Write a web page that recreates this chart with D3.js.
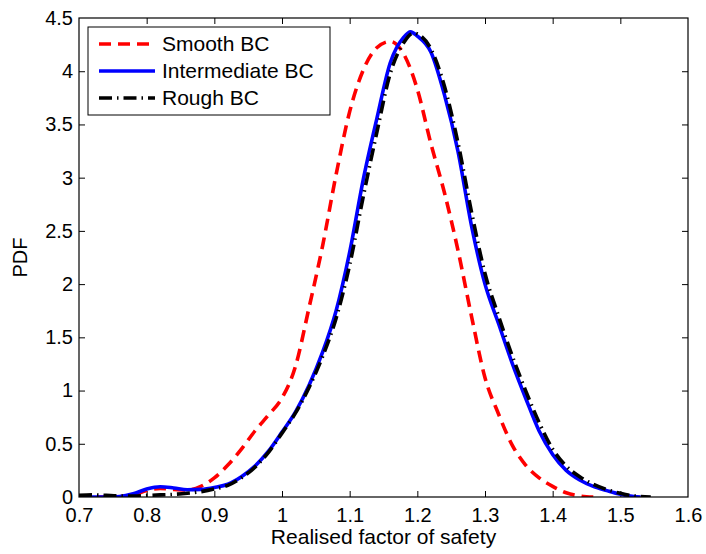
<!DOCTYPE html>
<html>
<head>
<meta charset="utf-8">
<script src="https://cdn.jsdelivr.net/npm/d3@7"></script>
<style>
  html, body { margin: 0; padding: 0; background: #fff; }
  svg { display: block; font-family: "Liberation Sans", Arial, Helvetica, sans-serif; }
</style>
</head>
<body>
<svg id="chart" width="706" height="554"></svg>
<script>
// ---- data ----
const xTicks = [0.7, 0.8, 0.9, 1.0, 1.1, 1.2, 1.3, 1.4, 1.5, 1.6];
const yTicks = [0, 0.5, 1, 1.5, 2, 2.5, 3, 3.5, 4, 4.5];
const seriesNames = ["Smooth BC", "Intermediate BC", "Rough BC"];

const smoothX = [0.70, 0.74, 0.76, 0.78, 0.80, 0.82, 0.84, 0.86, 0.88, 0.90, 0.92, 0.94, 0.96, 0.98, 1.00, 1.02, 1.04, 1.06, 1.08, 1.10, 1.12, 1.14, 1.16, 1.18, 1.20, 1.22, 1.24, 1.26, 1.28, 1.30, 1.32, 1.34, 1.36, 1.38, 1.40, 1.42, 1.44, 1.46];
const smoothY = [0.00, 0.00, 0.003, 0.02, 0.06, 0.08, 0.07, 0.065, 0.10, 0.18, 0.30, 0.45, 0.62, 0.77, 0.93, 1.23, 1.78, 2.36, 3.03, 3.62, 4.01, 4.22, 4.28, 4.16, 3.83, 3.32, 2.86, 2.32, 1.70, 1.12, 0.78, 0.49, 0.30, 0.18, 0.10, 0.04, 0.01, 0.00];

const interX = [0.70, 0.74, 0.76, 0.78, 0.80, 0.82, 0.84, 0.86, 0.88, 0.90, 0.92, 0.94, 0.96, 0.98, 1.00, 1.02, 1.04, 1.06, 1.08, 1.10, 1.12, 1.14, 1.16, 1.18, 1.19, 1.20, 1.22, 1.24, 1.26, 1.28, 1.30, 1.32, 1.34, 1.36, 1.38, 1.40, 1.42, 1.44, 1.46, 1.48, 1.50, 1.52, 1.53];
const interY = [0.00, 0.00, 0.005, 0.03, 0.075, 0.097, 0.085, 0.068, 0.072, 0.09, 0.12, 0.19, 0.29, 0.43, 0.61, 0.80, 1.05, 1.36, 1.75, 2.30, 2.98, 3.55, 4.08, 4.32, 4.37, 4.33, 4.18, 3.78, 3.25, 2.55, 2.00, 1.63, 1.26, 0.93, 0.62, 0.40, 0.25, 0.16, 0.10, 0.06, 0.025, 0.005, 0.00];

const roughX = [0.70, 0.72, 0.74, 0.76, 0.78, 0.80, 0.82, 0.84, 0.86, 0.88, 0.90, 0.92, 0.94, 0.96, 0.98, 1.00, 1.02, 1.04, 1.06, 1.08, 1.10, 1.12, 1.14, 1.16, 1.18, 1.195, 1.20, 1.22, 1.24, 1.26, 1.28, 1.30, 1.32, 1.34, 1.36, 1.38, 1.40, 1.42, 1.44, 1.46, 1.48, 1.50, 1.52, 1.545];
const roughY = [0.015, 0.02, 0.015, 0.01, 0.01, 0.015, 0.02, 0.025, 0.035, 0.05, 0.075, 0.11, 0.18, 0.28, 0.42, 0.60, 0.79, 1.03, 1.32, 1.68, 2.18, 2.82, 3.42, 3.98, 4.27, 4.36, 4.35, 4.21, 3.86, 3.33, 2.68, 2.10, 1.70, 1.33, 1.00, 0.70, 0.45, 0.29, 0.19, 0.12, 0.07, 0.035, 0.01, 0.00];

// ---- layout ----
const svg = d3.select("#chart");
const W = 706, H = 554;
const pL = 79, pR = 688, pT = 18, pB = 497;

svg.append("rect").attr("width", W).attr("height", H).attr("fill", "#fff");

const x = d3.scaleLinear().domain([0.7, 1.6]).range([pL, pR]);
const y = d3.scaleLinear().domain([0, 4.5]).range([pB, pT]);

const fmtX = d => (Math.abs(d - 1) < 1e-9 ? "1" : d.toFixed(1));

const tickLen = 6;
const gx = svg.append("g").attr("transform", `translate(0,${pB})`)
  .call(d3.axisBottom(x).tickValues(xTicks).tickSize(-tickLen).tickPadding(11).tickFormat(fmtX));
const gxt = svg.append("g").attr("transform", `translate(0,${pT})`)
  .call(d3.axisTop(x).tickValues(xTicks).tickSize(-tickLen).tickFormat(""));
const gy = svg.append("g").attr("transform", `translate(${pL},0)`)
  .call(d3.axisLeft(y).tickValues(yTicks).tickSize(-tickLen).tickPadding(6).tickFormat(d => d3.format("")(d)));
const gyr = svg.append("g").attr("transform", `translate(${pR},0)`)
  .call(d3.axisRight(y).tickValues(yTicks).tickSize(-tickLen).tickFormat(""));

[gx, gxt, gy, gyr].forEach(g => {
  g.select(".domain").remove();
  g.selectAll(".tick line").attr("stroke", "#000").attr("stroke-width", 1);
  g.selectAll("text").attr("fill", "#000").attr("font-size", 20)
    .attr("font-family", '"Liberation Sans", Arial, sans-serif');
});
gx.selectAll("text").attr("dy", "0.71em");
gx.selectAll(".tick").filter(d => d === 0.7 || d === 1.6).select("line").remove();
gxt.selectAll(".tick").filter(d => d === 0.7 || d === 1.6).select("line").remove();
gy.selectAll(".tick").filter(d => d === 0 || d === 4.5).select("line").remove();
gyr.selectAll(".tick").filter(d => d === 0 || d === 4.5).select("line").remove();

// data lines
const line = d3.line().x(d => x(d[0])).y(d => y(d[1])).curve(d3.curveMonotoneX);
svg.append("clipPath").attr("id", "clip").append("rect")
  .attr("x", pL).attr("y", pT - 2).attr("width", pR - pL).attr("height", pB - pT + 2);

const styles = [
  { color: "#ff0000", dash: "12,7" },
  { color: "#0000ff", dash: null },
  { color: "#000000", dash: "13,5,1.5,5" }
];
const data = [
  d3.zip(smoothX, smoothY),
  d3.zip(interX, interY),
  d3.zip(roughX, roughY)
];

const plotG = svg.append("g").attr("clip-path", "url(#clip)");
data.forEach((d, i) => {
  plotG.append("path").datum(d)
    .attr("d", line)
    .attr("fill", "none")
    .attr("stroke", styles[i].color)
    .attr("stroke-width", 3.6)
    .attr("stroke-dasharray", styles[i].dash)
    .attr("stroke-linejoin", "round");
});

// frame
svg.append("rect").attr("x", pL).attr("y", pT).attr("width", pR - pL).attr("height", pB - pT)
  .attr("fill", "none").attr("stroke", "#000").attr("stroke-width", 1.2);

// axis labels
svg.append("text").attr("x", (pL + pR) / 2).attr("y", 544)
  .attr("text-anchor", "middle").attr("font-size", 21).attr("fill", "#000")
  .text("Realised factor of safety");
svg.append("text").attr("transform", `translate(27,${(pT + pB) / 2}) rotate(-90)`)
  .attr("text-anchor", "middle").attr("font-size", 20).attr("fill", "#000")
  .text("PDF");

// legend
const lg = svg.append("g");
lg.append("rect").attr("x", 88).attr("y", 27).attr("width", 242).attr("height", 88)
  .attr("fill", "#fff").attr("stroke", "#000").attr("stroke-width", 1);
seriesNames.forEach((name, i) => {
  const yy = 44 + i * 27;
  lg.append("line").attr("x1", 99).attr("x2", 155).attr("y1", yy).attr("y2", yy)
    .attr("stroke", styles[i].color).attr("stroke-width", 3.6)
    .attr("stroke-dasharray", styles[i].dash);
  lg.append("text").attr("x", 162).attr("y", yy).attr("dy", "0.35em")
    .attr("font-size", 21).attr("fill", "#000").text(name);
});
</script>
</body>
</html>
